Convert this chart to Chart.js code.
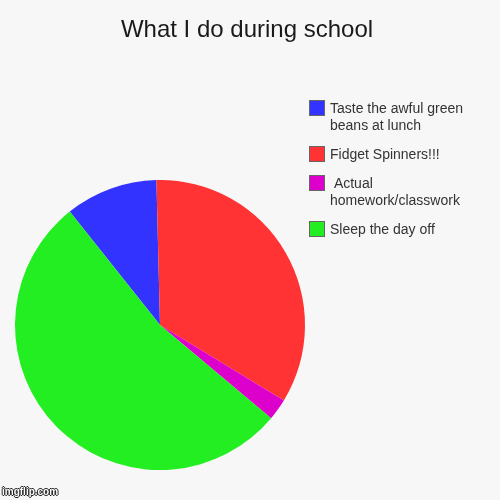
<!DOCTYPE html>
<html>
<head>
<meta charset="utf-8">
<script src="https://cdn.jsdelivr.net/npm/chart.js@4/dist/chart.umd.min.js"></script>
<style>
  html, body { margin: 0; padding: 0; background: #f7f7f7; }
  #wrap { position: relative; width: 500px; height: 500px; font-family: 'Liberation Sans', Arial, sans-serif; }
  #title { position: absolute; left: 0; top: 15px; width: 494px; text-align: center; font-size: 24px; color: #1a1a1a; }
  #chart { position: absolute; left: 0; top: 0; }
  #legend { position: absolute; left: 309px; top: 100px; width: 180px; }
  .item { display: flex; align-items: flex-start; margin-bottom: 12px; }
  .box { width: 14px; height: 14px; border: 1px solid #666; flex: none; }
  .txt { margin-left: 5px; width: 150px; font-size: 14px; line-height: 17px; color: #333; white-space: pre-wrap; margin-top: 0px; }
  #mark { position: absolute; left: 2px; bottom: 3px; font-size: 10px; font-weight: bold; color: #fff;
          text-shadow: -1px 0 #222, 1px 0 #222, 0 -1px #222, 0 1px #222; }
</style>
</head>
<body>
<div id="wrap">
  <canvas id="chart" width="500" height="500"></canvas>
  <div id="title">What I do during school</div>
  <div id="legend"></div>
  <div id="mark">imgflip.com</div>
</div>
<script>
// pie: what I do during school
const labels = ['Taste the awful green beans at lunch', 'Fidget Spinners!!!', ' Actual homework/classwork', 'Sleep the day off'];
const values = [10.3, 34.1, 2.4, 53.2];
const colors = ['#3333ff', '#ff3333', '#dd00cc', '#22ee22'];

const chart = new Chart(document.getElementById('chart'), {
    type: 'pie',
    data: {
        labels: labels,
        datasets: [{
            data: values,
            backgroundColor: colors,
            borderWidth: 0
        }]
    },
    options: {
        responsive: false,
        animation: false,
        rotation: -38.5,
        layout: { padding: { left: 0, right: 180, top: 180, bottom: 30 } },
        plugins: {
            legend: { display: false },
            tooltip: { enabled: false }
        }
    }
});

// html legend so the labels can wrap like the original
const legendEl = document.getElementById('legend');
chart.options.plugins.legend.labels.generateLabels(chart).forEach(item => {
    const row = document.createElement('div');
    row.className = 'item';
    const box = document.createElement('div');
    box.className = 'box';
    box.style.background = item.fillStyle;
    const txt = document.createElement('div');
    txt.className = 'txt';
    txt.textContent = item.text;
    row.appendChild(box);
    row.appendChild(txt);
    legendEl.appendChild(row);
});
</script>
</body>
</html>
